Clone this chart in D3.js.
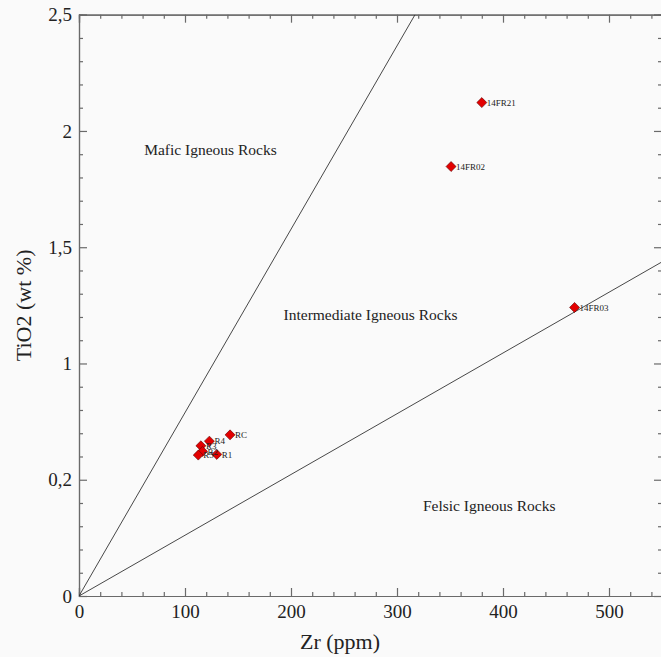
<!DOCTYPE html>
<html>
<head>
<meta charset="utf-8">
<script src="https://cdn.jsdelivr.net/npm/d3@7"></script>
<style>
  html, body { margin: 0; padding: 0; background: #fafafa; }
  svg { display: block; }
  text { font-family: "Liberation Serif", "DejaVu Serif", serif; fill: #222; }
</style>
</head>
<body>
<svg id="chart" width="661" height="657"></svg>
<script>
// Sample analyses: Zr (ppm) vs TiO2 (wt %)
const sampleNames = ["14FR21", "14FR02", "14FR03", "RC", "R4", "R3", "R2", "R5", "R1"];
const zrValues    = [380, 351, 467.5, 142.5, 123, 115, 116.5, 112.5, 130];
const tio2Values  = [2.122, 1.847, 1.241, 0.693, 0.666, 0.646, 0.622, 0.606, 0.609];

// Field boundaries drawn from the origin
const maficBoundary  = [[0, 0], [317, 2.5]];
const felsicBoundary = [[0, 0], [550, 1.437]];

// Field names and their positions in data units
const fieldNames = ["Mafic Igneous Rocks", "Intermediate Igneous Rocks", "Felsic Igneous Rocks"];
const fieldZr    = [124, 275, 387];
const fieldTiO2  = [1.92, 1.21, 0.39];

// Axis ticks
const xTicks = [0, 100, 200, 300, 400, 500];
const yTicks = [0, 0.5, 1, 1.5, 2, 2.5];
const yTickLabels = ["0", "0,2", "1", "1,5", "2", "2,5"];

const svg = d3.select("#chart");
const x = d3.scaleLinear().domain([0, 550]).range([79, 662]);
const y = d3.scaleLinear().domain([0, 2.5]).range([596, 14.7]);

const axisColor = "#6a6a6a";

// Minor ticks
const xMinor = d3.range(0, 551, 20).filter(v => v % 100 !== 0);
const yMinor = d3.range(0, 25).map(v => v / 10).filter(v => Math.round(v * 10) % 5 !== 0);

const g = svg.append("g");

// Bottom axis (ticks inward)
const axisB = g.append("g").attr("transform", `translate(0,${y(0)})`)
  .call(d3.axisBottom(x).tickValues(xTicks).tickSize(-8).tickPadding(9).tickFormat(d3.format("d")));
const axisBMinor = g.append("g").attr("transform", `translate(0,${y(0)})`)
  .call(d3.axisBottom(x).tickValues(xMinor).tickSize(-4).tickFormat(""));
// Top axis
const axisT = g.append("g").attr("transform", `translate(0,${y(2.5)})`)
  .call(d3.axisTop(x).tickValues(xTicks).tickSize(-8).tickFormat(""));
const axisTMinor = g.append("g").attr("transform", `translate(0,${y(2.5)})`)
  .call(d3.axisTop(x).tickValues(xMinor).tickSize(-4).tickFormat(""));
// Left axis
const axisL = g.append("g").attr("transform", `translate(${x(0)},0)`)
  .call(d3.axisLeft(y).tickValues(yTicks).tickSize(-8).tickPadding(7)
    .tickFormat((d, i) => yTickLabels[i]));
const axisLMinor = g.append("g").attr("transform", `translate(${x(0)},0)`)
  .call(d3.axisLeft(y).tickValues(yMinor).tickSize(-4).tickFormat(""));
// Right axis
const axisR = g.append("g").attr("transform", `translate(${x(550)},0)`)
  .call(d3.axisRight(y).tickValues(yTicks).tickSize(-8).tickFormat(""));
const axisRMinor = g.append("g").attr("transform", `translate(${x(550)},0)`)
  .call(d3.axisRight(y).tickValues(yMinor).tickSize(-4).tickFormat(""));

[axisB, axisBMinor, axisT, axisTMinor, axisL, axisLMinor, axisR, axisRMinor].forEach(a => {
  a.selectAll("path").attr("stroke", axisColor).attr("stroke-width", 1.2);
  a.selectAll("line").attr("stroke", axisColor).attr("stroke-width", 1.2);
  a.selectAll("text").attr("font-size", 19).attr("fill", "#222")
    .attr("font-family", "Liberation Serif, DejaVu Serif, serif");
});

// Clip region for the plot interior
svg.append("clipPath").attr("id", "plotClip")
  .append("rect").attr("x", x(0)).attr("y", y(2.5)).attr("width", x(550) - x(0)).attr("height", y(0) - y(2.5));

const line = d3.line().x(d => x(d[0])).y(d => y(d[1]));
const fields = svg.append("g").attr("clip-path", "url(#plotClip)");
[maficBoundary, felsicBoundary].forEach(b => {
  fields.append("path").attr("d", line(b)).attr("fill", "none")
    .attr("stroke", "#333").attr("stroke-width", 0.9);
});

// Field names
svg.append("g").selectAll("text").data(fieldNames).join("text")
  .attr("x", (d, i) => x(fieldZr[i]))
  .attr("y", (d, i) => y(fieldTiO2[i]))
  .attr("text-anchor", "middle")
  .attr("dy", "0.35em")
  .attr("font-size", 15.5)
  .text(d => d);

// Sample points
const diamond = d3.symbol().type(d3.symbolDiamond2).size(64);
const pts = svg.append("g");
pts.selectAll("path").data(sampleNames).join("path")
  .attr("transform", (d, i) => `translate(${x(zrValues[i])},${y(tio2Values[i])})`)
  .attr("d", diamond)
  .attr("fill", "#e30000")
  .attr("stroke", "#5a0000")
  .attr("stroke-width", 0.6);

pts.selectAll("text").data(sampleNames).join("text")
  .attr("x", (d, i) => x(zrValues[i]) + 5)
  .attr("y", (d, i) => y(tio2Values[i]))
  .attr("dy", "0.35em")
  .attr("font-size", 9)
  .text(d => d);

// Axis titles
svg.append("text")
  .attr("x", 340).attr("y", 649)
  .attr("text-anchor", "middle")
  .attr("font-size", 22)
  .text("Zr (ppm)");
svg.append("text")
  .attr("transform", `translate(31,${y(1.25)}) rotate(-90)`)
  .attr("text-anchor", "middle")
  .attr("font-size", 22)
  .text("TiO2 (wt %)");
</script>
</body>
</html>
